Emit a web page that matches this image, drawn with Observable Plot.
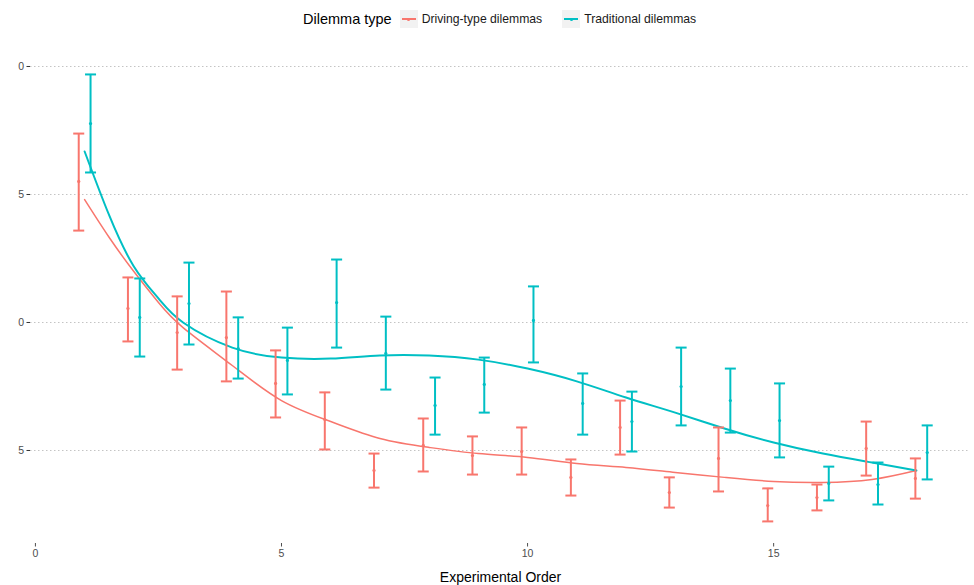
<!DOCTYPE html>
<html>
<head>
<meta charset="utf-8">
<script src="https://cdn.jsdelivr.net/npm/d3@7"></script>
<script src="https://cdn.jsdelivr.net/npm/@observablehq/plot@0.6"></script>
<style>
  body { margin: 0; background: #fff; font-family: "Liberation Sans", Arial, sans-serif; }
  #wrap { position: relative; width: 974px; height: 585px; }
  #legend { position: absolute; top: 8px; left: 303px; display: flex; align-items: center; height: 22px; color: #000; }
  #legend .title { font-size: 14.5px; margin-right: 8px; }
  #legend .key { width: 18px; height: 18px; background: #f2f2f2; position: relative; margin-right: 4px; }
  #legend .key .ln { position: absolute; left: 2px; right: 2px; top: 8px; height: 1.5px; }
  #legend .key .pt { position: absolute; left: 7.5px; top: 7.5px; width: 3px; height: 3px; border-radius: 50%; }
  #legend .lab { font-size: 12.2px; color: #1a1a1a; margin-right: 20px; }
</style>
</head>
<body>
<div id="wrap">
  <div id="legend"></div>
  <div id="chart"></div>
</div>
<script>
// ---- data ----
const order = [1,2,3,4,5,6,7,8,9,10,11,12,13,14,15,16,17,18];

const drivingMean = [5.51,0.55,-0.39,-0.59,-2.38,-3.79,-5.78,-4.80,-5.20,-5.04,-6.05,-4.10,-6.64,-5.31,-7.15,-6.84,-4.92,-6.09];
const drivingHigh = [7.38,1.76,1.02,1.21,-1.09,-2.73,-5.12,-3.75,-4.45,-4.10,-5.35,-3.05,-6.05,-4.10,-6.48,-6.33,-3.87,-5.31];
const drivingLow  = [3.59,-0.74,-1.84,-2.30,-3.71,-4.96,-6.45,-5.82,-5.94,-5.94,-6.76,-5.16,-7.23,-6.60,-7.77,-7.34,-5.98,-6.88];

const tradMean = [7.77,0.20,0.74,-1.02,-1.48,0.78,-1.21,-3.24,-2.42,0.08,-3.16,-3.87,-2.50,-3.05,-3.83,-6.29,-6.33,-5.08];
const tradHigh = [9.69,1.72,2.34,0.20,-0.20,2.46,0.23,-2.15,-1.37,1.41,-1.99,-2.70,-0.98,-1.80,-2.38,-5.63,-5.47,-4.02];
const tradLow  = [5.86,-1.33,-0.86,-2.19,-2.81,-0.98,-2.62,-4.38,-3.52,-1.56,-4.38,-5.04,-4.02,-4.30,-5.27,-6.95,-7.11,-6.13];

const smoothX = [1,1.5,2,2.5,3,4,5,6,7,8,9,10,11,12,13,14,15,16,17,17.9];
const smoothDriving = [4.80,3.32,1.99,0.78,-0.20,-1.68,-3.05,-3.87,-4.53,-4.88,-5.12,-5.27,-5.51,-5.66,-5.86,-6.05,-6.21,-6.25,-6.13,-5.78];
const smoothTrad    = [6.68,4.18,2.19,0.94,0.00,-0.98,-1.37,-1.41,-1.29,-1.29,-1.45,-1.80,-2.30,-2.93,-3.52,-4.14,-4.69,-5.12,-5.47,-5.78];

const seriesNames = ["Driving-type dilemmas", "Traditional dilemmas"];
const seriesColors = ["#F8766D", "#00BFC4"];

const yTicks = [10, 5, 0, -5];
const yTickLabels = ["0", "5", "0", "5"];
const xTicks = [0, 5, 10, 15];
const xTickLabels = ["0", "5", "10", "15"];

// ---- build tables ----
const dodge = 0.12, capHalf = 0.112;
const bars = [];
order.forEach((o, i) => {
  bars.push({series: seriesNames[0], x: o - dodge, mean: drivingMean[i], low: drivingLow[i], high: drivingHigh[i]});
  bars.push({series: seriesNames[1], x: o + dodge, mean: tradMean[i], low: tradLow[i], high: tradHigh[i]});
});
const smoothD = smoothX.map((x, i) => ({series: seriesNames[0], x, y: smoothDriving[i]}));
const smoothT = smoothX.map((x, i) => ({series: seriesNames[1], x, y: smoothTrad[i]}));
const yLab = new Map(yTicks.map((t, i) => [t, yTickLabels[i]]));
const xLab = new Map(xTicks.map((t, i) => [t, xTickLabels[i]]));

const color = {domain: seriesNames, range: seriesColors};

const chart = Plot.plot({
  width: 974,
  height: 585,
  marginTop: 50,
  marginBottom: 42,
  marginLeft: 30,
  marginRight: 4,
  style: {fontFamily: "Liberation Sans, Arial, sans-serif", background: "white"},
  x: {domain: [-0.1, 19.0]},
  y: {domain: [-8.633, 10.625]},
  color,
  marks: [
    Plot.ruleY(yTicks, {stroke: "#c4c4c4", strokeWidth: 1, strokeDasharray: "1.5,2.5"}),
    Plot.axisY({ticks: yTicks, tickFormat: d => yLab.get(d), tickSize: 3.5, tickPadding: 3, fontSize: 10.5, color: "#4d4d4d", stroke: "#333", label: null}),
    Plot.axisX({ticks: xTicks, tickFormat: d => xLab.get(d), tickSize: 3.5, tickPadding: 3, fontSize: 10.5, color: "#4d4d4d", label: null}),
    Plot.text(["Experimental Order"], {frameAnchor: "bottom", dy: 38, fontSize: 14, fill: "#000"}),
    Plot.line(smoothD, {x: "x", y: "y", stroke: "series", strokeWidth: 1.5, curve: "natural"}),
    Plot.line(smoothT, {x: "x", y: "y", stroke: "series", strokeWidth: 2, curve: "natural"}),
    Plot.ruleX(bars, {x: "x", y1: "low", y2: "high", stroke: "series", strokeWidth: 2}),
    Plot.link(bars, {x1: d => d.x - capHalf, x2: d => d.x + capHalf, y1: "high", y2: "high", stroke: "series", strokeWidth: 2}),
    Plot.link(bars, {x1: d => d.x - capHalf, x2: d => d.x + capHalf, y1: "low", y2: "low", stroke: "series", strokeWidth: 2}),
    Plot.dot(bars, {x: "x", y: "mean", fill: "series", r: 1.6, stroke: null})
  ]
});
document.getElementById("chart").appendChild(chart);

// legend
const lg = document.getElementById("legend");
const t = document.createElement("span"); t.className = "title"; t.textContent = "Dilemma type"; lg.appendChild(t);
seriesNames.forEach((n, i) => {
  const k = document.createElement("span"); k.className = "key";
  const ln = document.createElement("span"); ln.className = "ln"; ln.style.background = seriesColors[i];
  const pt = document.createElement("span"); pt.className = "pt"; pt.style.background = seriesColors[i];
  k.appendChild(ln); k.appendChild(pt); lg.appendChild(k);
  const l = document.createElement("span"); l.className = "lab"; l.textContent = n; lg.appendChild(l);
});
</script>
</body>
</html>
